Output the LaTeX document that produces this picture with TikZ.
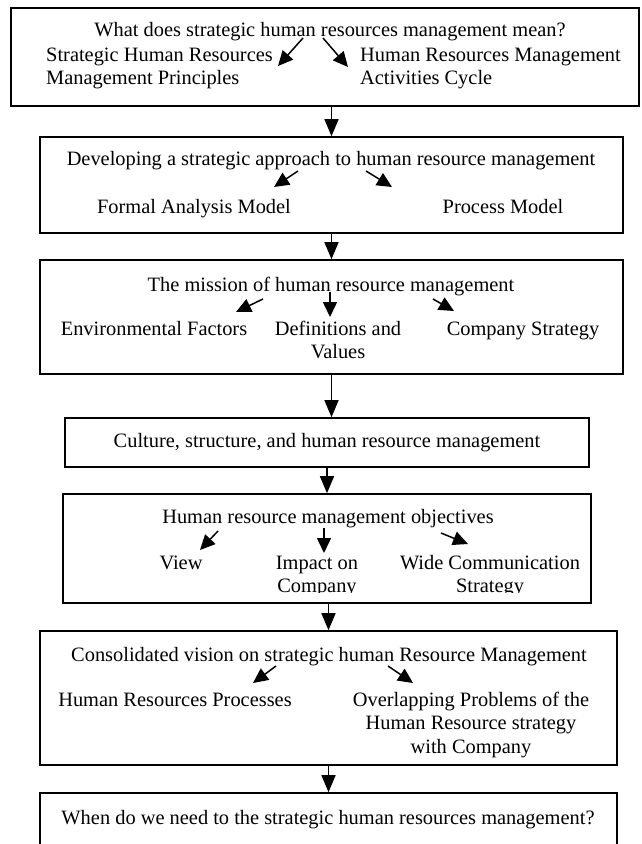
\documentclass[tikz,border=0pt]{standalone}
\usepackage{fontspec}
\setmainfont{Liberation Serif}
\usetikzlibrary{arrows.meta}
\tikzset{
	box/.style={draw,line width=1.6pt,inner sep=0pt},
	lbl/.style={inner sep=0pt,anchor=base},
	flow/.style={line width=1.5pt,-{Triangle[length=17pt,width=14pt]}},
	link/.style={line width=1.5pt,-{Triangle[length=15pt,width=14pt]}}
}
\begin{document}
\begin{tikzpicture}[x=1pt,y=-1pt,font=\fontsize{20.4}{23.5}\selectfont]
		\clip (0,0) rectangle (641,844);
		% boxes
		\node[box,minimum width=628pt,minimum height=98pt] (b1) at (325,57) {};
		\node[box,minimum width=583pt,minimum height=96pt] (b2) at (331.5,185) {};
		\node[box,minimum width=583pt,minimum height=114pt] (b3) at (331.5,317) {};
		\node[box,minimum width=524pt,minimum height=49pt] (b4) at (327,442.5) {};
		\node[box,minimum width=528pt,minimum height=109pt] (b5) at (327,548.5) {};
		\node[box,minimum width=577pt,minimum height=134pt] (b6) at (328.5,698) {};
		\node[box,minimum width=577pt,minimum height=77pt] (b7) at (328.5,831.5) {};
		% texts (multi-line: base is the last line)
		\node[lbl] (t1) at (330,36) {What does strategic human resources management mean?};
		\node[lbl,anchor=base west,align=left] (l1) at (46,84.5) {Strategic Human Resources\\Management Principles};
		\node[lbl,anchor=base west,align=left] (r1) at (360,84.5) {Human Resources Management\\Activities Cycle};
		\node[lbl] (t2) at (331,165) {Developing a strategic approach to human resource management};
		\node[lbl] (l2) at (194,213) {Formal Analysis Model};
		\node[lbl] (r2) at (503,213) {Process Model};
		\node[lbl] (t3) at (331,291) {The mission of human resource management};
		\node[lbl] (l3) at (154,335) {Environmental Factors};
		\node[lbl,align=center] (m3) at (338,358.5) {Definitions and\\Values};
		\node[lbl] (r3) at (523,335) {Company Strategy};
		\node[lbl] (t4) at (327,447) {Culture, structure, and human resource management};
		\node[lbl] (t5) at (328,523) {Human resource management objectives};
		\begin{scope}
			\clip (63,494) rectangle (591,592);
			\node[lbl] (l5) at (181,569) {View};
			\node[lbl,align=center] (m5) at (317,592.5) {Impact on\\Company};
			\node[lbl,align=center] (r5) at (490,592.5) {Wide Communication\\Strategy};
		\end{scope}
		\node[lbl] (t6) at (329,661) {Consolidated vision on strategic human Resource Management};
		\node[lbl] (l6) at (175,706) {Human Resources Processes};
		\node[lbl,align=center] (r6) at (471,753) {Overlapping Problems of the\\Human Resource strategy\\with Company};
		\node[lbl] (t7) at (328,824) {When do we need to the strategic human resources management?};
		% arrows between boxes
		\draw[flow] (b1.south -| b2.north) to (b2.north);
		\draw[flow] (b2.south) to (b3.north);
		\draw[flow] (b3.south) to (b3.south |- b4.north);
		\draw[flow] (b4.south) to (b5.north);
		\draw[flow] (b6.north |- b5.south) to (b6.north);
		\draw[flow] (b6.south) to (b7.north);
		% arrows inside boxes
		\coordinate (A1) at (303,38);
		\coordinate (A2) at (278,66);
		\coordinate (B1) at (323,38);
		\coordinate (B2) at (348,67);
		\coordinate (C1) at (298,171);
		\coordinate (C2) at (274,187);
		\coordinate (D1) at (366,171);
		\coordinate (D2) at (392,187);
		\coordinate (E1) at (263,299);
		\coordinate (E2) at (236,312);
		\coordinate (F1) at (330,292);
		\coordinate (F2) at (330,317);
		\coordinate (G1) at (433,299);
		\coordinate (G2) at (454,311);
		\coordinate (H1) at (218,531);
		\coordinate (H2) at (200,550);
		\coordinate (I1) at (324,528);
		\coordinate (I2) at (324,553);
		\coordinate (J1) at (441,533);
		\coordinate (J2) at (468,544);
		\coordinate (K1) at (276,666);
		\coordinate (K2) at (253,683);
		\coordinate (L1) at (388,666);
		\coordinate (L2) at (413,683);
		\draw[link] (A1) to (A2);
		\draw[link] (B1) to (B2);
		\draw[link] (C1) to (C2);
		\draw[link] (D1) to (D2);
		\draw[link] (E1) to (E2);
		\draw[link] (F1) to (F2);
		\draw[link] (G1) to (G2);
		\draw[link] (H1) to (H2);
		\draw[link] (I1) to (I2);
		\draw[link] (J1) to (J2);
		\draw[link] (K1) to (K2);
		\draw[link] (L1) to (L2);
	\end{tikzpicture}
\end{document}
